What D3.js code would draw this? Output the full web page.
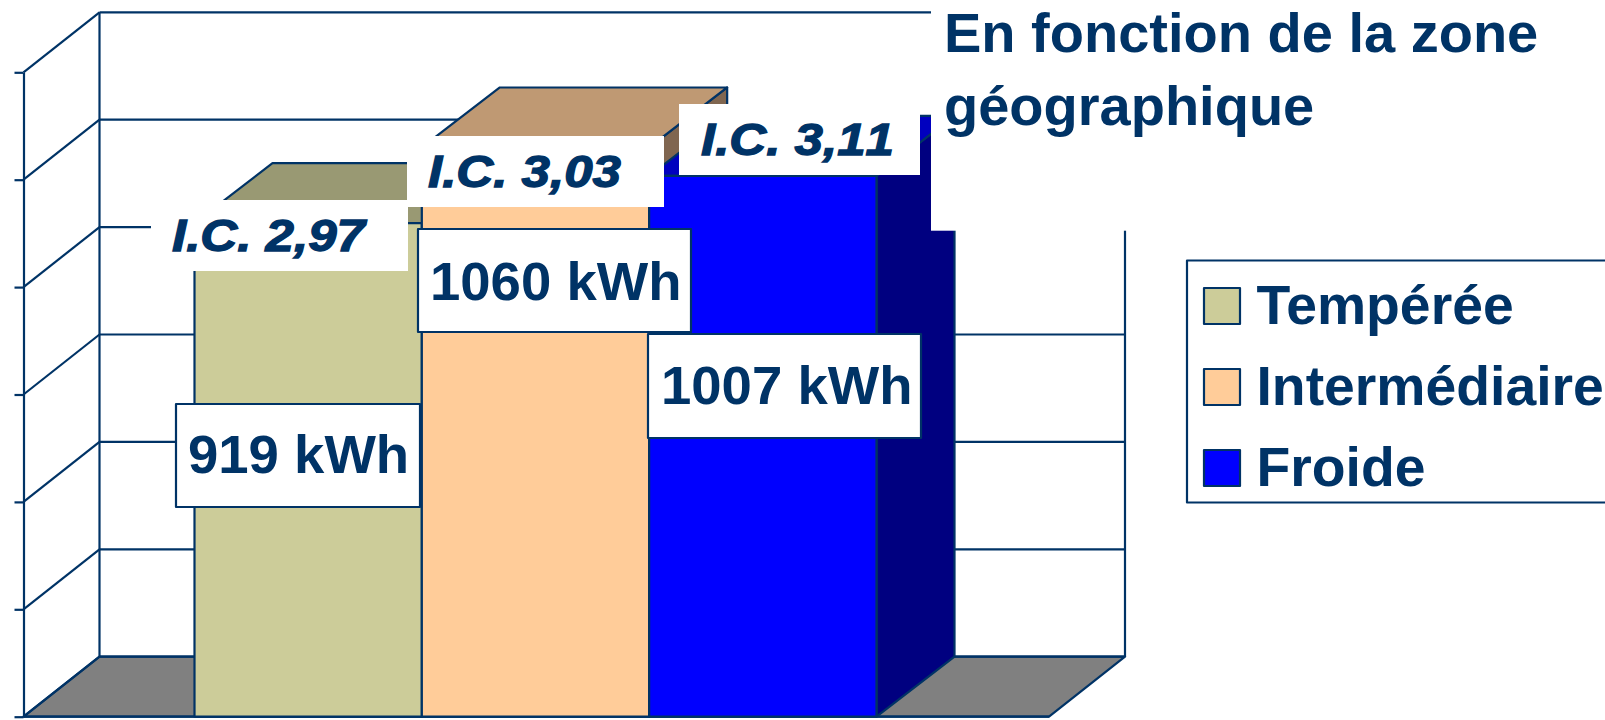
<!DOCTYPE html>
<html lang="fr">
<head>
<meta charset="utf-8">
<title>Consommation par zone géographique</title>
<script src="https://cdn.jsdelivr.net/npm/d3@7/dist/d3.min.js"></script>
<style>
  html, body { margin: 0; padding: 0; background: #fff; overflow: hidden; }
  svg { display: block; }
  text { font-family: "Liberation Sans", Arial, sans-serif; font-weight: 700; fill: #003366; white-space: pre; }
</style>
</head>
<body>
<svg id="chart" width="1605" height="720"></svg>
<script>
// Values
const zones = ["Tempérée", "Intermédiaire", "Froide"];
const consumption = [919, 1060, 1007];
const indices = ["2,97", "3,03", "3,11"];
const axisTicks = [0, 200, 400, 600, 800, 1000, 1200];
const titleLines = ["En fonction de la zone", "géographique"];

// Colours: front, top and side face of each column
const frontColours = ["#CCCC99", "#FFCC99", "#0000FF"];
const topColours = ["#999973", "#BF9973", "#0000BF"];
const sideColours = ["#66664D", "#806650", "#000080"];
const ink = "#003366";

// Frame geometry of the 3D box
const left = 23.5, right = 1049;
const depthX = 76, depthY = -60, columnDepthX = 78;
const y = d3.scaleLinear().domain([0, 1200]).range([716.7, 72.3]);
const x = d3.scaleBand().domain(zones).range([194.5, 876.5]).padding(0);

const svg = d3.select("#chart");
const edge = sel => sel.attr("stroke", ink).attr("stroke-width", 2.2).attr("stroke-linejoin", "round");
const points = pts => pts.map(p => p.join(",")).join(" ");

// Floor
svg.append("polygon")
  .attr("points", points([[left, y(0)], [right, y(0)], [right + depthX, y(0) + depthY], [left + depthX, y(0) + depthY]]))
  .attr("fill", "#808080").call(edge);

// Back wall gridlines and side wall diagonals
const grid = svg.append("g").attr("fill", "none");
grid.selectAll("line.back").data(axisTicks).join("line").attr("class", "back")
  .attr("x1", left + depthX).attr("x2", right + depthX)
  .attr("y1", d => y(d) + depthY).attr("y2", d => y(d) + depthY).call(edge);
grid.selectAll("line.diag").data(axisTicks).join("line").attr("class", "diag")
  .attr("x1", left).attr("x2", left + depthX)
  .attr("y1", d => y(d)).attr("y2", d => y(d) + depthY).call(edge);
grid.append("line").attr("x1", left + depthX).attr("x2", left + depthX)
  .attr("y1", y(1200) + depthY).attr("y2", y(0) + depthY).call(edge);
grid.append("line").attr("x1", right + depthX).attr("x2", right + depthX)
  .attr("y1", y(1200) + depthY).attr("y2", y(0) + depthY).call(edge);

// Value axis on the front left edge, ticks only
const axis = svg.append("g").attr("transform", `translate(${left},0)`)
  .call(d3.axisLeft(y).tickValues(axisTicks).tickSize(9).tickSizeOuter(0).tickFormat(""));
axis.selectAll("path, line").attr("stroke", ink).attr("stroke-width", 2.2);

// Front edge of the floor
svg.append("line").attr("x1", left).attr("x2", right)
  .attr("y1", y(0)).attr("y2", y(0)).call(edge);

// Columns, painted from left to right so each one overlaps its neighbour
const columns = svg.selectAll("g.column").data(zones).join("g").attr("class", "column");
columns.each(function (zone, i) {
  const g = d3.select(this);
  const x0 = x(zone), x1 = x0 + x.bandwidth();
  const top = y(consumption[i]), base = y(0);
  g.append("polygon")
    .attr("points", points([[x1, top], [x1 + columnDepthX, top + depthY], [x1 + columnDepthX, base + depthY], [x1, base]]))
    .attr("fill", sideColours[i]).call(edge);
  g.append("polygon")
    .attr("points", points([[x0, top], [x0 + columnDepthX, top + depthY], [x1 + columnDepthX, top + depthY], [x1, top]]))
    .attr("fill", topColours[i]).call(edge);
  g.append("rect")
    .attr("x", x0).attr("y", top).attr("width", x.bandwidth()).attr("height", base - top)
    .attr("fill", frontColours[i]).call(edge);
});

// Borderless index callouts, set wide and heavy
const indexBoxes = [
  { x: 151, y: 200, w: 257, h: 71, tx: 172, base: 251 },
  { x: 407, y: 136, w: 257, h: 71, tx: 428, base: 187 },
  { x: 679, y: 104, w: 241, h: 71, tx: 701, base: 155 }
];
const indexGroup = svg.append("g");
indexGroup.selectAll("rect").data(indexBoxes).join("rect")
  .attr("x", d => d.x).attr("y", d => d.y).attr("width", d => d.w).attr("height", d => d.h)
  .attr("fill", "#fff");
indexGroup.selectAll("text").data(indexBoxes).join("text")
  .attr("x", d => d.tx).attr("y", d => d.base)
  .attr("font-size", 45).attr("font-style", "italic")
  .attr("stroke", ink).attr("stroke-width", 1.3)
  .style("font-kerning", "none")
  .attr("textLength", 193).attr("lengthAdjust", "spacingAndGlyphs")
  .text((d, i) => `I.C. ${indices[i]}`);

// Boxed consumption callouts
const valueBoxes = [
  { x: 176, y: 404, w: 244, h: 103, tx: 188, base: 473 },
  { x: 418, y: 229, w: 273, h: 103, tx: 430, base: 300 },
  { x: 648, y: 334, w: 273, h: 104, tx: 661, base: 404 }
];
const valueGroup = svg.append("g");
valueGroup.selectAll("rect").data(valueBoxes).join("rect")
  .attr("x", d => d.x).attr("y", d => d.y).attr("width", d => d.w).attr("height", d => d.h)
  .attr("fill", "#fff").call(edge);
valueGroup.selectAll("text").data(valueBoxes).join("text")
  .attr("x", d => d.tx).attr("y", d => d.base)
  .attr("font-size", 54.5)
  .text((d, i) => `${consumption[i]} kWh`);

// Title panel sits over the upper right of the frame
svg.append("rect").attr("x", 931).attr("y", 0).attr("width", 674).attr("height", 230.7).attr("fill", "#fff");
svg.append("g").selectAll("text").data(titleLines).join("text")
  .attr("x", 944).attr("y", (d, i) => 52 + i * 73)
  .attr("font-size", 56)
  .text(d => d);

// Legend, running off the right edge
svg.append("rect").attr("x", 1187).attr("y", 260.5).attr("width", 440).attr("height", 242)
  .attr("fill", "#fff").call(edge);
const legend = svg.append("g").selectAll("g").data(zones).join("g")
  .attr("transform", (d, i) => `translate(1204,${288 + i * 81})`);
legend.append("rect").attr("width", 36).attr("height", 36)
  .attr("fill", (d, i) => frontColours[i]).call(edge);
legend.append("text").attr("x", 52.5).attr("y", 36).attr("font-size", 55.3).text(d => d);
</script>
</body>
</html>
